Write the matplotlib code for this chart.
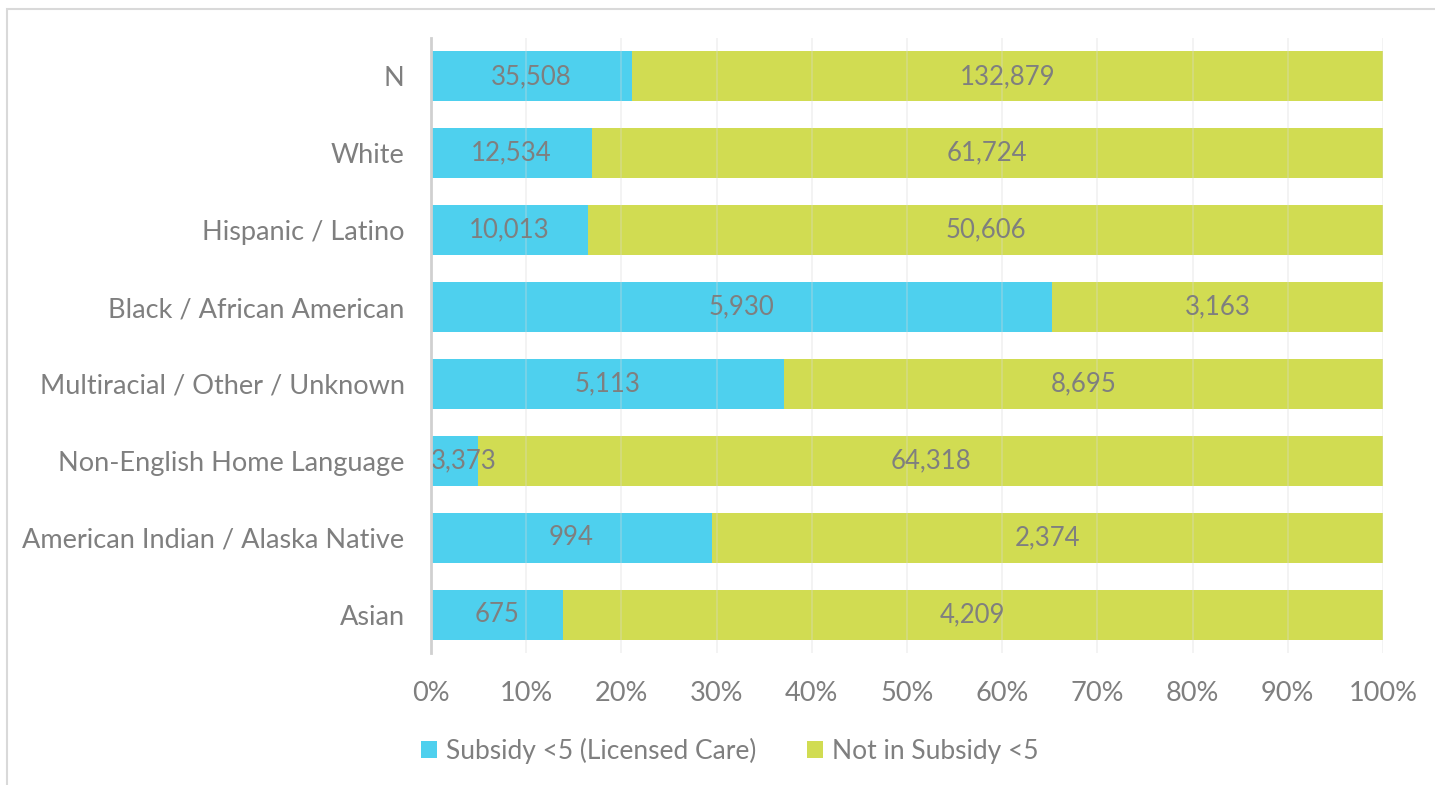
import numpy as np
import matplotlib.pyplot as plt
from matplotlib.patches import Rectangle
from matplotlib.ticker import PercentFormatter

plt.rcParams['font.family'] = ['Lato', 'DejaVu Sans']

groups = ['N', 'White', 'Hispanic / Latino', 'Black / African American',
          'Multiracial / Other / Unknown', 'Non-English Home Language',
          'American Indian / Alaska Native', 'Asian']
subsidy = np.array([35508, 12534, 10013, 5930, 5113, 3373, 994, 675])
not_subsidy = np.array([132879, 61724, 50606, 3163, 8695, 64318, 2374, 4209])
series_names = ['Subsidy <5 (Licensed Care)', 'Not in Subsidy <5']

cyan = '#4ed0ee'
green = '#d1dc52'
txt = '#7f7f7f'

total = subsidy + not_subsidy
share_a = subsidy / total
share_b = not_subsidy / total
y = np.arange(len(groups))

fig = plt.figure(figsize=(14.35, 7.85), dpi=100)
ax = fig.add_axes([431 / 1435, 132 / 785, 952 / 1435, 615 / 785])

h = 0.65
ba = ax.barh(y, share_a, height=h, color=cyan, label=series_names[0], zorder=2)
bb = ax.barh(y, share_b, left=share_a, height=h, color=green, label=series_names[1], zorder=2)

labels = []
for i in range(len(groups)):
    labels.append(ax.text(share_a[i] / 2, y[i], f'{subsidy[i]:,}', ha='center', va='center',
                          color=txt, fontsize=18.5, zorder=4))
    ax.text(share_a[i] + share_b[i] / 2, y[i], f'{not_subsidy[i]:,}', ha='center',
            va='center', color=txt, fontsize=18.5, zorder=4)

ax.set_xlim(0, 1)
ax.set_ylim(len(groups) - 0.5, -0.5)
ax.set_xticks(np.arange(0, 1.01, 0.1))
ax.xaxis.set_major_formatter(PercentFormatter(1.0, decimals=0))
ax.set_yticks(y)
ax.set_yticklabels(groups)
ax.tick_params(axis='y', length=0, pad=19, labelsize=19.5, labelcolor=txt)
ax.tick_params(axis='x', length=0, pad=20, labelsize=19.5, labelcolor=txt)
ax.grid(axis='x', color='#d9d9d9', linewidth=1.2, alpha=0.35, zorder=3)
ax.set_axisbelow(False)
for s in ['top', 'right', 'bottom']:
    ax.spines[s].set_visible(False)
ax.spines['left'].set_color('#d0d0d0')
ax.spines['left'].set_linewidth(2)
ax.spines['left'].set_zorder(5)

# keep labels inside the plot area, as the original does
fig.canvas.draw()
r = fig.canvas.get_renderer()
ax_x0 = ax.get_window_extent(r).x0
for t in labels:
    bb_t = t.get_window_extent(r)
    if bb_t.x0 < ax_x0:
        t.set_ha('left')
        t.set_x(0.0)

fig.legend(handles=[ba, bb], loc='center', bbox_to_anchor=(730 / 1435, 1 - 751 / 785),
           ncol=2, frameon=False, fontsize=19, labelcolor=txt, handlelength=0.6,
           handleheight=0.6, handletextpad=0.34, columnspacing=1.93)

fig.patches.append(Rectangle((7 / 1435, -0.05), 1.1, 1 - 9 / 785 + 0.05,
                             transform=fig.transFigure, fill=False,
                             edgecolor='#d9d9d9', linewidth=1.5))

fig.savefig('out.png', dpi=100)
